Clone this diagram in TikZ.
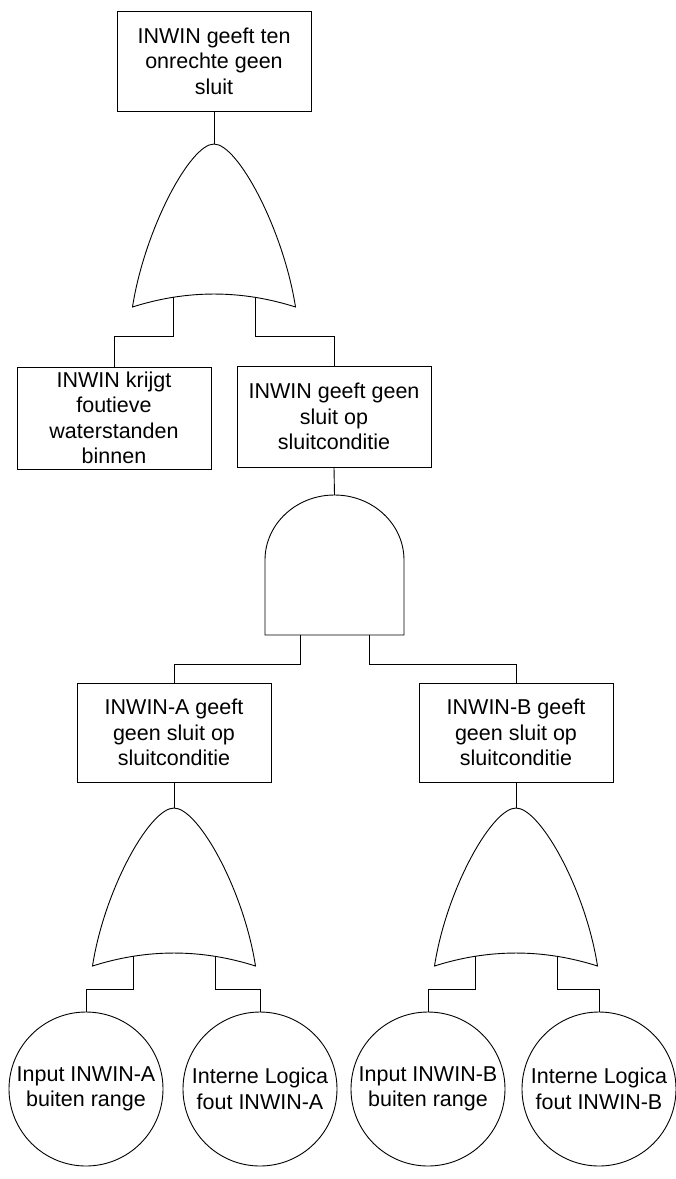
\documentclass[tikz,border=0pt]{standalone}
\usepackage{fontspec}
\setmainfont{Liberation Sans}
\tikzset{
  lw/.style={line width=0.9pt},
  event/.style={draw, lw, minimum width=194pt},
  basic/.style={draw, lw, circle, minimum size=154pt},
  gate/.style={draw, lw, fill=white},
  wire/.style={draw, lw},
  % OR gate: apex at the pic origin, #1 = height down to the outer corners
  pics/orgate/.style={code={
    \draw[gate] (-81.5,#1) .. controls (-69.5,#1-77) and (-24,0) .. (0,0)
      .. controls (24,0) and (69.5,#1-77) .. (81.5,#1)
      .. controls (27.2,#1-17.3) and (-27.2,#1-17.3) .. cycle;
    \coordinate (-in) at (0,0);
    \coordinate (-l) at (-41,#1-9.7);
    \coordinate (-r) at (41,#1-9.7);
  }}
}
\begin{document}
\begin{tikzpicture}[x=1pt, y=-1pt,
  every node/.style={font=\fontsize{21.5}{25.5}\selectfont, align=center, inner sep=0pt}]
\useasboundingbox (0,0) rectangle (676,1179);

% events
\node[event, minimum height=100pt] (top) at (214,61) {INWIN geeft ten\\onrechte geen\\sluit};
\node[event, minimum height=102pt] (e1) at (114,418) {INWIN krijgt\\foutieve\\waterstanden\\binnen};
\node[event, minimum height=101pt] (e2) at (334,416.5) {INWIN geeft geen\\sluit op\\sluitconditie};
\node[event, minimum height=99pt] (ea) at (174,732.5) {INWIN-A geeft\\geen sluit op\\sluitconditie};
\node[event, minimum height=99pt] (eb) at (516,732.5) {INWIN-B geeft\\geen sluit op\\sluitconditie};

% basic events
\node[basic] (c1) at (86,1089) {Input INWIN-A\\buiten range};
\node[basic] (c2) at (260,1089) {Interne Logica\\fout INWIN-A};
\node[basic] (c3) at (428,1089) {Input INWIN-B\\buiten range};
\node[basic] (c4) at (599,1089) {Interne Logica\\fout INWIN-B};

% gates
\pic (g1) at (214,144) {orgate=163};
\pic (gA) at (174,808) {orgate=158};
\pic (gB) at (516,808) {orgate=158};

% AND gate
\draw[gate] (265,635) -- (265,560)
  .. controls (265,524.1) and (296.1,495) .. (334.5,495)
  .. controls (372.9,495) and (404,524.1) .. (404,560)
  -- (404,635) -- cycle;
\coordinate (and-in) at (334.5,495);
\coordinate (and-l) at (300,635);
\coordinate (and-r) at (369,635);

% bus levels
\coordinate (b1) at (0,336);
\coordinate (b2) at (0,664);
\coordinate (b3) at (0,989);

% connectors
\draw[wire] (top.south) -- (g1-in);
\draw[wire] (g1-l) -- (g1-l |- b1) -| (e1.north);
\draw[wire] (g1-r) -- (g1-r |- b1) -| (e2.north);
\draw[wire] (e2.south) -- (and-in);
\draw[wire] (and-l) -- (and-l |- b2) -| (ea.north);
\draw[wire] (and-r) -- (and-r |- b2) -| (eb.north);
\draw[wire] (ea.south) -- (gA-in);
\draw[wire] (eb.south) -- (gB-in);
\draw[wire] (gA-l) -- (gA-l |- b3) -| (c1.north);
\draw[wire] (gA-r) -- (gA-r |- b3) -| (c2.north);
\draw[wire] (gB-l) -- (gB-l |- b3) -| (c3.north);
\draw[wire] (gB-r) -- (gB-r |- b3) -| (c4.north);
\end{tikzpicture}
\end{document}
